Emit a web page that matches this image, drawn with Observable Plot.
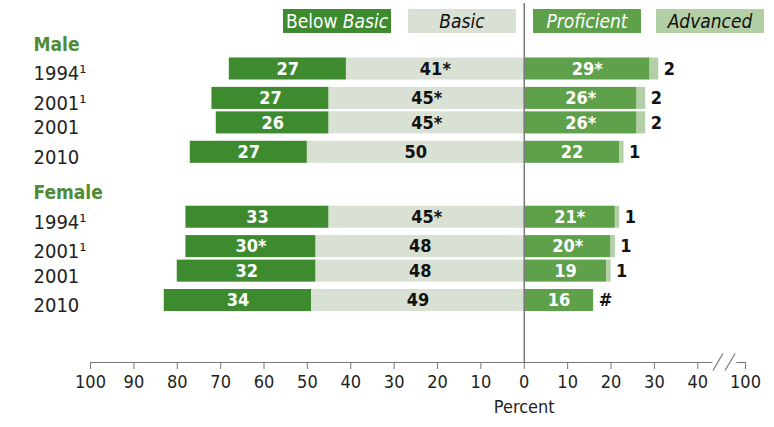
<!DOCTYPE html>
<html>
<head>
<meta charset="utf-8">
<script src="https://cdn.jsdelivr.net/npm/d3@7"></script>
<script src="https://cdn.jsdelivr.net/npm/@observablehq/plot@0.6"></script>
<style>
  html, body { margin: 0; padding: 0; background: #fff; }
  #wrap { position: relative; width: 774px; height: 427px; }
  .lg { position: absolute; top: 9px; height: 24px; width: 108px; display: flex; align-items: center; justify-content: center;
        font-family: "Liberation Sans Narrow", "DejaVu Sans Condensed", sans-serif; font-size: 19px; }
</style>
</head>
<body>
<div id="wrap"></div>
<script>
// ---- data ----
const genders = ["Male", "Female"];
const years = ["1994¹", "2001¹", "2001", "2010"];
const maleBelow = [27, 27, 26, 27];
const maleBelowLbl = ["27", "27", "26", "27"];
const maleBasic = [41, 45, 45, 50];
const maleBasicLbl = ["41*", "45*", "45*", "50"];
const maleProf = [29, 26, 26, 22];
const maleProfLbl = ["29*", "26*", "26*", "22"];
const maleAdv = [2, 2, 2, 1];
const maleAdvLbl = ["2", "2", "2", "1"];
const femaleBelow = [33, 30, 32, 34];
const femaleBelowLbl = ["33", "30*", "32", "34"];
const femaleBasic = [45, 48, 48, 49];
const femaleBasicLbl = ["45*", "48", "48", "49"];
const femaleProf = [21, 20, 19, 16];
const femaleProfLbl = ["21*", "20*", "19", "16"];
const femaleAdv = [1, 1, 1, 0];
const femaleAdvLbl = ["1", "1", "1", "#"];
const xTicks = [-100, -90, -80, -70, -60, -50, -40, -30, -20, -10, 0, 10, 20, 30, 40];
const breakValue = 51; // axis position standing for 100 after the break

const colors = {below: "#3e8a2f", basic: "#d9e0d4", prof: "#5fa04b", adv: "#b2cfa6"};
const FONT = '"Liberation Sans Narrow", "DejaVu Sans Condensed", sans-serif';

// ---- layout (row units) ----
const rowSteps = [1.0, 1.2, 1.0, 1.2];
const headerGap = 6.05;
const half = 0.45;
const src = {
  Male: [maleBelow, maleBelowLbl, maleBasic, maleBasicLbl, maleProf, maleProfLbl, maleAdv, maleAdvLbl],
  Female: [femaleBelow, femaleBelowLbl, femaleBasic, femaleBasicLbl, femaleProf, femaleProfLbl, femaleAdv, femaleAdvLbl]
};
const headers = [];
const rows = [];
genders.forEach((g, gi) => {
  const h = gi * headerGap;
  headers.push({g, pos: h});
  let p = h;
  const [b, bl, ba, bal, pr, prl, ad, adl] = src[g];
  years.forEach((yr, i) => {
    p += rowSteps[i];
    rows.push({g, yr, pos: p, below: b[i], belowL: bl[i], basic: ba[i], basicL: bal[i], prof: pr[i], profL: prl[i], adv: ad[i], advL: adl[i]});
  });
});

const segs = [];
rows.forEach(r => {
  segs.push({k: "below", x1: -(r.below + r.basic), x2: -r.basic, y1: r.pos - half, y2: r.pos + half});
  segs.push({k: "basic", x1: -r.basic, x2: 0, y1: r.pos - half, y2: r.pos + half});
  segs.push({k: "prof", x1: 0, x2: r.prof, y1: r.pos - half, y2: r.pos + half});
  segs.push({k: "adv", x1: r.prof, x2: r.prof + r.adv, y1: r.pos - half, y2: r.pos + half});
});

// y domain: px 3..362 where header row 0 sits at 44 and one unit = 24.5 px
const unit = 24.5, y0px = 44, topPx = 3, botPx = 362;
const yTop = (topPx - y0px) / unit, yBot = (botPx - y0px) / unit;

const axisSegs = [{a: -100, b: 43.5}, {a: 49, b: breakValue}];
const slashes = [{x1: 43.5, x2: 45.8}, {x1: 46.3, x2: 48.6}];
const slY1 = (370 - y0px) / unit, slY2 = (353 - y0px) / unit;

const chart = Plot.plot({
  width: 774,
  height: 427,
  marginLeft: 90,
  marginRight: 29,
  marginTop: topPx,
  marginBottom: 427 - botPx,
  style: {fontFamily: FONT, background: "#fff"},
  x: {domain: [-100, breakValue], axis: null},
  y: {domain: [yTop, yBot], range: [topPx, botPx], axis: null},
  marks: [
    Plot.rect(segs, {x1: "x1", x2: "x2", y1: "y1", y2: "y2", fill: d => colors[d.k]}),
    Plot.ruleX([0], {y1: yTop, y2: yBot, stroke: "#7a7a7a", strokeWidth: 1.5}),
    // value labels
    Plot.text(rows, {x: d => -(d.basic + d.below / 2), y: "pos", text: "belowL", fill: "#fff", fontWeight: "bold", fontSize: 18}),
    Plot.text(rows, {x: d => -d.basic / 2, y: "pos", text: "basicL", fill: "#111", fontWeight: "bold", fontSize: 18}),
    Plot.text(rows, {x: d => d.prof / 2, y: "pos", text: "profL", fill: "#fff", fontWeight: "bold", fontSize: 18}),
    Plot.text(rows, {x: d => d.prof + d.adv, y: "pos", text: "advL", fill: "#111", fontWeight: "bold", fontSize: 18, textAnchor: "start", dx: 5}),
    // row labels
    Plot.text(rows, {y: "pos", text: "yr", frameAnchor: "left", textAnchor: "start", dx: -57, dy: 5, fontSize: 20, fill: "#222"}),
    Plot.text(headers, {y: "pos", text: "g", frameAnchor: "left", textAnchor: "start", dx: -57, fontSize: 19, fontWeight: "bold", fill: "#4e8b35"}),
    // axis
    Plot.ruleY(axisSegs, {y: yBot, x1: "a", x2: "b", stroke: "#777", strokeWidth: 1.2}),
    Plot.link(slashes, {x1: "x1", x2: "x2", y1: slY1, y2: slY2, stroke: "#777", strokeWidth: 1.2}),
    Plot.axisX({ticks: [...xTicks, breakValue], tickFormat: d => d === breakValue ? "100" : String(Math.abs(d)),
      tickSize: 7, tickPadding: 6, fontSize: 18, stroke: "#777", color: "#222", label: null}),
    Plot.text(["Percent"], {x: 0, frameAnchor: "bottom", dy: 50, fontSize: 18, fill: "#222"})
  ]
});

const wrap = document.getElementById("wrap");
wrap.appendChild(chart);

const legendItems = [
  {left: 283, bg: colors.below, color: "#fff", html: 'Below <i>&nbsp;Basic</i>'},
  {left: 408, bg: colors.basic, color: "#111", html: '<i>Basic</i>'},
  {left: 533, bg: colors.prof, color: "#fff", html: '<i>Proficient</i>'},
  {left: 656, bg: colors.adv, color: "#111", html: '<i>Advanced</i>'}
];
legendItems.forEach(it => {
  const d = document.createElement("div");
  d.className = "lg";
  d.style.left = it.left + "px";
  d.style.background = it.bg;
  d.style.color = it.color;
  d.innerHTML = it.html;
  wrap.appendChild(d);
});
</script>
</body>
</html>
